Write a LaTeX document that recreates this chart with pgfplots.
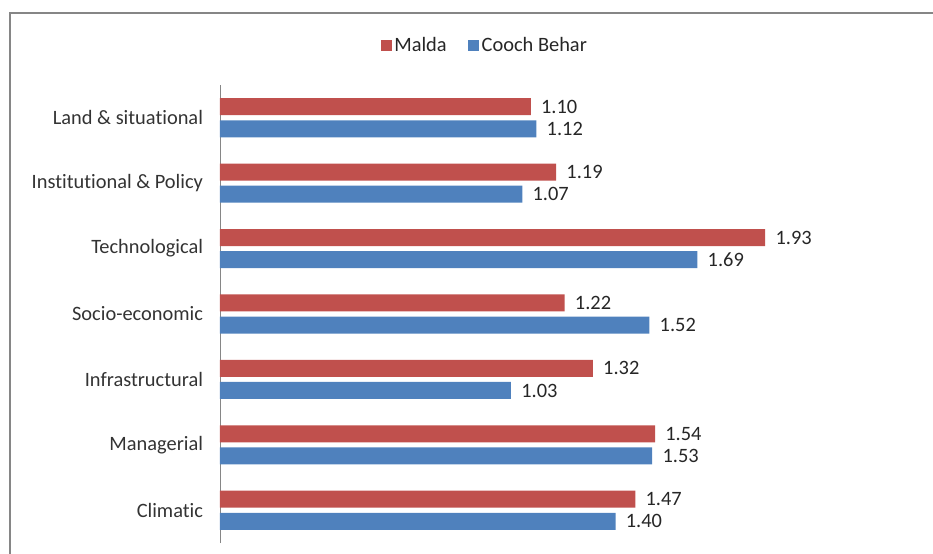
\documentclass[border=0pt]{standalone}
\usepackage{pgfplots}
\pgfplotsset{compat=1.18}
\usepackage{fontspec}
\setmainfont{Carlito}[Ligatures=NoCommon]
\definecolor{maldared}{HTML}{C0504D}
\definecolor{coochblue}{HTML}{4F81BD}
\definecolor{framegray}{HTML}{868686}
\begin{document}
\begin{tikzpicture}[x=0.75pt,y=0.75pt]
\useasboundingbox (0,0) rectangle (933,554);
\draw[framegray, line width=1.4pt] (10,-20) -- (10,541) -- (960,541);
\begin{axis}[
  at={(165pt,8.25pt)}, anchor=south west,
  scale only axis, width=508.5pt, height=343.5pt,
  xbar, bar width=12.75pt,
  xmin=0, xmax=2.4, ymin=-0.5, ymax=6.5,
  hide x axis,
  axis y line*=left,
  y axis line style={-, draw=framegray, line width=0.6pt},
  ytick={0,1,2,3,4,5,6},
  yticklabels={Climatic,Managerial,Infrastructural,Socio-economic,Technological,Institutional \& Policy,Land \& situational},
  major tick length=0pt,
  yticklabel style={font=\fontsize{15.3pt}{17pt}\selectfont, text=black!80, xshift=-9.2pt},
  /pgf/number format/.cd, fixed, fixed zerofill, precision=2, assume math mode=true,
  /pgfplots/.cd,
  nodes near coords,
  nodes near coords style={font=\fontsize{15.3pt}{17pt}\selectfont, text=black!85, anchor=west, xshift=4.2pt},
  legend columns=2,
  legend style={at={(rel axis cs:0.391,1.087)}, anchor=center, draw=none, fill=none,
    font=\fontsize{15.3pt}{17pt}\selectfont, text=black!85,
    /tikz/every even column/.append style={column sep=14pt}},
  legend image code/.code={\fill[#1, draw=none] (0pt,-4.1pt) rectangle (8.25pt,4.1pt);},
]
\addplot[fill=maldared, draw=none, bar shift=8.3pt] coordinates {
 (1.47,0) (1.54,1) (1.32,2) (1.22,3) (1.93,4) (1.19,5) (1.10,6)};
\addplot[fill=coochblue, draw=none, bar shift=-8.3pt] coordinates {
 (1.40,0) (1.53,1) (1.03,2) (1.52,3) (1.69,4) (1.07,5) (1.12,6)};
\legend{Malda, Cooch Behar}
\end{axis}
\end{tikzpicture}
\end{document}
